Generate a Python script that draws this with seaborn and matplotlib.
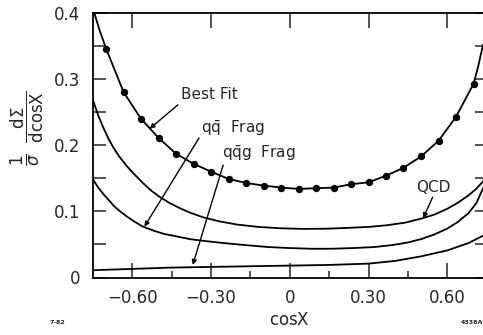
import numpy as np
import pandas as pd
import matplotlib
matplotlib.use("Agg")
import matplotlib.pyplot as plt
import seaborn as sns

# --- data ---
fit_cos = [-0.745, -0.725, -0.700, -0.633, -0.567, -0.500, -0.433, -0.367, -0.300,
           -0.233, -0.167, -0.100, -0.033, 0.033, 0.100, 0.167, 0.233, 0.300,
           0.367, 0.433, 0.500, 0.567, 0.633, 0.700, 0.718, 0.736]
fit_val = [0.400, 0.374, 0.346, 0.280, 0.240, 0.211, 0.187, 0.172, 0.160,
           0.149, 0.143, 0.139, 0.136, 0.134, 0.135, 0.136, 0.141, 0.144,
           0.154, 0.166, 0.183, 0.207, 0.243, 0.293, 0.320, 0.352]

data_cos = [-0.700, -0.633, -0.567, -0.500, -0.433, -0.367, -0.300, -0.233, -0.167,
            -0.100, -0.033, 0.033, 0.100, 0.167, 0.233, 0.300, 0.367, 0.433,
            0.500, 0.567, 0.633, 0.700]
data_val = [0.346, 0.280, 0.240, 0.211, 0.187, 0.172, 0.160, 0.149, 0.143,
            0.139, 0.136, 0.134, 0.135, 0.136, 0.141, 0.144, 0.154, 0.166,
            0.183, 0.207, 0.243, 0.293]

qcd_cos = [-0.75, -0.73, -0.71, -0.69, -0.67, -0.65, -0.62, -0.59, -0.56, -0.53,
           -0.50, -0.46, -0.42, -0.38, -0.33, -0.27, -0.20, -0.12, -0.04, 0.05,
           0.14, 0.22, 0.30, 0.37, 0.44, 0.50, 0.55, 0.60, 0.64, 0.68, 0.71, 0.74]
qcd_val = [0.268, 0.245, 0.226, 0.209, 0.195, 0.183, 0.168, 0.155, 0.143, 0.132,
           0.123, 0.113, 0.105, 0.098, 0.091, 0.085, 0.080, 0.0765, 0.0745, 0.0735,
           0.0738, 0.075, 0.0765, 0.079, 0.083, 0.089, 0.095, 0.104, 0.113, 0.124,
           0.134, 0.147]

qq_cos = [-0.75, -0.73, -0.71, -0.69, -0.67, -0.65, -0.62, -0.59, -0.56, -0.52,
          -0.48, -0.43, -0.38, -0.32, -0.25, -0.17, -0.08, 0.0, 0.08, 0.16, 0.24,
          0.32, 0.39, 0.45, 0.50, 0.55, 0.60, 0.64, 0.68, 0.71, 0.74]
qq_val = [0.148, 0.136, 0.126, 0.117, 0.108, 0.101, 0.092, 0.084, 0.077, 0.071,
          0.066, 0.062, 0.058, 0.055, 0.052, 0.049, 0.046, 0.0445, 0.0435, 0.0435,
          0.0445, 0.046, 0.049, 0.053, 0.058, 0.065, 0.074, 0.084, 0.097, 0.112,
          0.138]

qqg_cos = [-0.75, -0.60, -0.45, -0.30, -0.15, 0.0, 0.15, 0.30, 0.40, 0.50, 0.60, 0.68, 0.74]
qqg_val = [0.011, 0.013, 0.015, 0.016, 0.017, 0.018, 0.019, 0.021, 0.025, 0.032,
           0.041, 0.052, 0.064]

x_ticks = [-0.6, -0.3, 0.0, 0.3, 0.6]
x_labels = ["\u22120.60", "\u22120.30", "0", "0.30", "0.60"]
y_ticks = [0.0, 0.1, 0.2, 0.3, 0.4]
y_labels = ["0", "0.1", "0.2", "0.3", "0.4"]

sns.set_style("ticks")
plt.rcParams['font.family'] = ['DejaVu Sans']
plt.rcParams['mathtext.fontset'] = 'dejavusans'

fig = plt.figure(figsize=(4.83, 3.35), dpi=100)
ax = fig.add_axes([93 / 483, 1 - 277.5 / 335, (486.7 - 93) / 483, (277.5 - 13) / 335])

curves = [(fit_cos, fit_val), (qcd_cos, qcd_val), (qq_cos, qq_val), (qqg_cos, qqg_val)]
for cx, cy in curves:
    sns.lineplot(x=cx, y=cy, ax=ax, color="black", lw=1.3, sort=False)

sns.scatterplot(x=data_cos, y=data_val, ax=ax, color="black", s=28, edgecolor="black",
                linewidth=0, zorder=5)

ax.set_xlim(-0.75, 0.75)
ax.set_ylim(0, 0.4)
ax.set_xticks(x_ticks)
ax.set_xticklabels(x_labels, fontsize=12)
ax.set_xticks([-0.45, -0.15, 0.15, 0.45], minor=True)
ax.set_yticks(y_ticks)
ax.set_yticklabels(y_labels, fontsize=12)
ax.set_yticks([0.05, 0.15, 0.25, 0.35], minor=True)

ax.tick_params(axis="x", which="major", direction="in", length=11, width=1.1, pad=8,
               top=True)
ax.tick_params(axis="x", which="minor", direction="in", length=5, width=1.1, top=False)
ax.tick_params(axis="y", which="both", direction="in", length=9, width=1.1, pad=9,
               right=True)
for sp in ax.spines.values():
    sp.set_linewidth(1.3)
    sp.set_color("black")

ax.set_xlabel("cos$\\mathrm{X}$", fontsize=12, labelpad=3)
ax.set_ylabel("")

fig.text(27 / 483, 1 - 128 / 335,
         r"$\dfrac{1}{\sigma}\ \ \dfrac{\mathrm{d}\Sigma}{\mathrm{dcos X}}$",
         rotation=90, ha="center", va="center", fontsize=12)

arrow = dict(arrowstyle="-|>", color="black", lw=1.0, mutation_scale=7,
             shrinkA=0, shrinkB=0)
ax.annotate("", xy=(-0.534, 0.225), xytext=(-0.427, 0.261), arrowprops=arrow)
ax.text(-0.415, 0.2765, "Best Fit", fontsize=11, va="center", ha="left")
ax.annotate("", xy=(-0.554, 0.077), xytext=(-0.346, 0.211), arrowprops=arrow)
ax.text(-0.337, 0.225, r"q$\mathrm{\bar{q}}$  Frag", fontsize=11, va="center", ha="left")
ax.annotate("", xy=(-0.370, 0.019), xytext=(-0.254, 0.170), arrowprops=arrow)
ax.text(-0.257, 0.187, r"q$\mathrm{\bar{q}g}$  Frag", fontsize=11, va="center", ha="left")
ax.annotate("", xy=(0.508, 0.0897), xytext=(0.544, 0.1215), arrowprops=arrow)
ax.text(0.483, 0.136, "QCD", fontsize=11, va="center", ha="left")

fig.text(57 / 483, 1 - 322 / 335, "7-82", fontsize=4.5, weight="bold", ha="center", va="center")
fig.text(472 / 483, 1 - 323 / 335, "4338A", fontsize=4.5, weight="bold", ha="center", va="center")

fig.savefig("out.png", dpi=100)
